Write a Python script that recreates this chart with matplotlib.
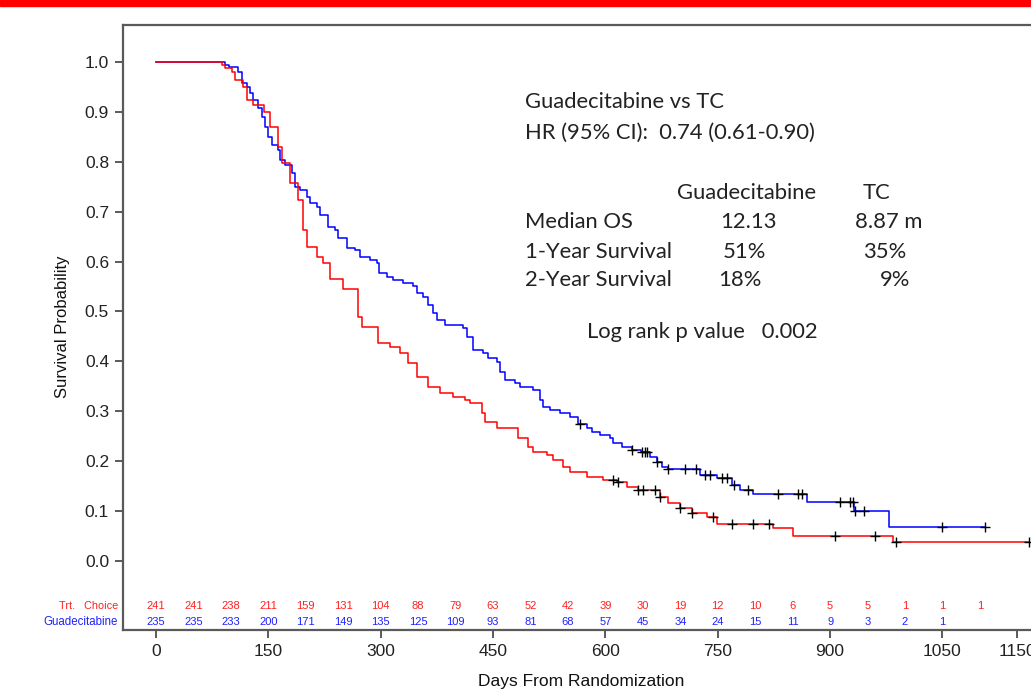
import numpy as np
import matplotlib.pyplot as plt
from matplotlib.patches import Rectangle

# --- Kaplan-Meier steps (days, survival after the drop) ---
tc_time = [0, 88, 92, 101, 105, 116, 121, 130, 144, 152, 163, 168, 179, 190, 196, 202,
           215, 223, 232, 250, 270, 275, 296, 312, 326, 336, 348, 363, 379, 397, 413,
           419, 435, 439, 455, 483, 497, 503, 522, 530, 543, 553, 575, 597, 615, 629,
           644, 673, 684, 700, 716, 736, 749, 824, 850, 984]
tc_surv = [1.0, 0.995, 0.989, 0.980, 0.964, 0.950, 0.924, 0.914, 0.900, 0.870, 0.830,
           0.798, 0.758, 0.724, 0.663, 0.629, 0.609, 0.597, 0.565, 0.545, 0.489, 0.468,
           0.436, 0.428, 0.417, 0.396, 0.368, 0.348, 0.336, 0.328, 0.322, 0.316, 0.296,
           0.278, 0.266, 0.246, 0.228, 0.218, 0.212, 0.202, 0.188, 0.178, 0.168, 0.162,
           0.158, 0.148, 0.142, 0.127, 0.115, 0.105, 0.095, 0.087, 0.073, 0.065, 0.049,
           0.037]
tc_cens = [610, 617, 644, 650, 666, 673, 700, 716, 744, 769, 797, 818, 907, 960, 988, 1165]

gua_time = [0, 92, 97, 109, 115, 121, 125, 130, 136, 142, 146, 150, 155, 163, 166, 172,
            182, 186, 192, 202, 206, 215, 219, 230, 239, 243, 255, 266, 272, 286, 295,
            298, 308, 316, 330, 343, 348, 356, 363, 370, 375, 386, 410, 415, 423, 437,
            443, 455, 459, 466, 479, 486, 503, 513, 517, 526, 539, 553, 563, 575, 582,
            593, 606, 610, 622, 636, 648, 660, 669, 676, 684, 726, 749, 769, 780, 797,
            869, 932, 979]
gua_surv = [1.0, 0.995, 0.990, 0.980, 0.958, 0.950, 0.938, 0.924, 0.908, 0.890, 0.870,
            0.850, 0.834, 0.824, 0.804, 0.794, 0.778, 0.750, 0.744, 0.730, 0.718, 0.710,
            0.693, 0.669, 0.663, 0.647, 0.627, 0.623, 0.609, 0.603, 0.597, 0.577, 0.569,
            0.563, 0.557, 0.551, 0.537, 0.529, 0.513, 0.497, 0.483, 0.473, 0.467, 0.449,
            0.423, 0.417, 0.406, 0.398, 0.378, 0.362, 0.356, 0.348, 0.342, 0.322, 0.308,
            0.302, 0.296, 0.288, 0.274, 0.266, 0.258, 0.252, 0.246, 0.236, 0.228, 0.222,
            0.218, 0.208, 0.198, 0.188, 0.184, 0.172, 0.166, 0.152, 0.142, 0.133, 0.117,
            0.099, 0.067]
gua_cens = [566, 636, 649, 653, 656, 669, 684, 706, 721, 733, 740, 756, 762, 772, 790,
            830, 857, 862, 913, 927, 930, 933, 945, 1049, 1107]

# --- Number at risk ---
risk_days = list(range(0, 1101, 50))
risk_tc = [241, 241, 238, 211, 159, 131, 104, 88, 79, 63, 52, 42, 39, 30, 19, 12, 10,
           6, 5, 5, 1, 1, 1]
risk_gua = [235, 235, 233, 200, 171, 149, 135, 125, 109, 93, 81, 68, 57, 45, 34, 24,
            15, 11, 9, 3, 2, 1]

xticks = [0, 150, 300, 450, 600, 750, 900, 1050, 1150]
yticks = [0.0, 0.1, 0.2, 0.3, 0.4, 0.5, 0.6, 0.7, 0.8, 0.9, 1.0]

plt.rcParams['font.family'] = ['Liberation Sans', 'DejaVu Sans']

W, H = 1031, 691
fig = plt.figure(figsize=(W / 100, H / 100), dpi=100)
fig.patches.append(Rectangle((0, 1 - 6 / H), 1, 6 / H, transform=fig.transFigure,
                             color='#ff0000', zorder=10))

ax = fig.add_axes([123 / W, (H - 630) / H, (1040 - 123) / W, (630 - 24.5) / H])
ax.set_xlim(-44.06, 1180.2)
ax.set_ylim(-0.1395, 1.0759)


def km_line(t, s, cens, color):
    t = np.asarray(t, float)
    s = np.asarray(s, float)
    cens = np.asarray(cens, float)
    tt = np.r_[t, cens.max()]
    ss = np.r_[s, s[-1]]
    ax.step(tt, ss, where='post', color=color, lw=1.1, zorder=3)
    idx = np.searchsorted(t, cens, side='right') - 1
    ax.plot(cens, s[idx], ls='none', marker='+', ms=7, mew=1.0, color='black', zorder=4)


km_line(gua_time, gua_surv, gua_cens, '#0000ff')
km_line(tc_time, tc_surv, tc_cens, '#ff0000')

# risk table inside the frame
for d, n in zip(risk_days, risk_tc):
    ax.text(d, -0.0905, str(n), color='#ff2020', fontsize=8, ha='center', va='center')
for d, n in zip(risk_days, risk_gua):
    ax.text(d, -0.124, str(n), color='#2020ff', fontsize=8, ha='center', va='center')
ax.text(-50.5, -0.0905, 'Trt.   Choice', color='#ff2020', fontsize=7.8, ha='right',
        va='center', clip_on=False)
ax.text(-50.5, -0.124, 'Guadecitabine', color='#2020ff', fontsize=8.3, ha='right',
        va='center', clip_on=False)

# annotation block
ann = dict(fontsize=15.8, family=['Lato', 'DejaVu Sans'], color='#222222', va='center')
ax.text(492.7, 0.920, 'Guadecitabine vs TC', **ann)
ax.text(492.7, 0.858, 'HR (95% CI):  0.74 (0.61-0.90)', **ann)
ax.text(695.6, 0.738, 'Guadecitabine', **ann)
ax.text(944, 0.738, 'TC', **ann)
ax.text(492.7, 0.679, 'Median OS', **ann)
ax.text(753, 0.679, '12.13', **ann)
ax.text(933, 0.679, '8.87 m', **ann)
ax.text(492.7, 0.619, '1-Year Survival', **ann)
ax.text(757, 0.619, '51%', **ann)
ax.text(944, 0.619, '35%', **ann)
ax.text(492.7, 0.563, '2-Year Survival', **ann)
ax.text(750, 0.563, '18%', **ann)
ax.text(966.6, 0.563, '9%', **ann)
ax.text(575.4, 0.459, 'Log rank p value   0.002', **ann)

# axes styling
for side in ['left', 'bottom', 'top', 'right']:
    ax.spines[side].set_color('#5a5a5a')
    ax.spines[side].set_linewidth(1.6)
ax.set_xticks(xticks)
ax.set_xticklabels([str(x) for x in xticks])
ax.set_yticks(yticks)
ax.set_yticklabels(['%.1f' % y for y in yticks])
ax.tick_params(axis='both', direction='out', length=6, width=1.4, color='#5a5a5a',
               labelsize=12.5, labelcolor='#222222')
ax.tick_params(axis='y', pad=4)
ax.tick_params(axis='x', pad=4)
ax.set_ylabel('Survival Probability', fontsize=12, labelpad=11, color='#111111')
ax.set_xlabel('Days From Randomization', fontsize=12.5, labelpad=11, color='#111111')

fig.savefig('out.png', dpi=100)
